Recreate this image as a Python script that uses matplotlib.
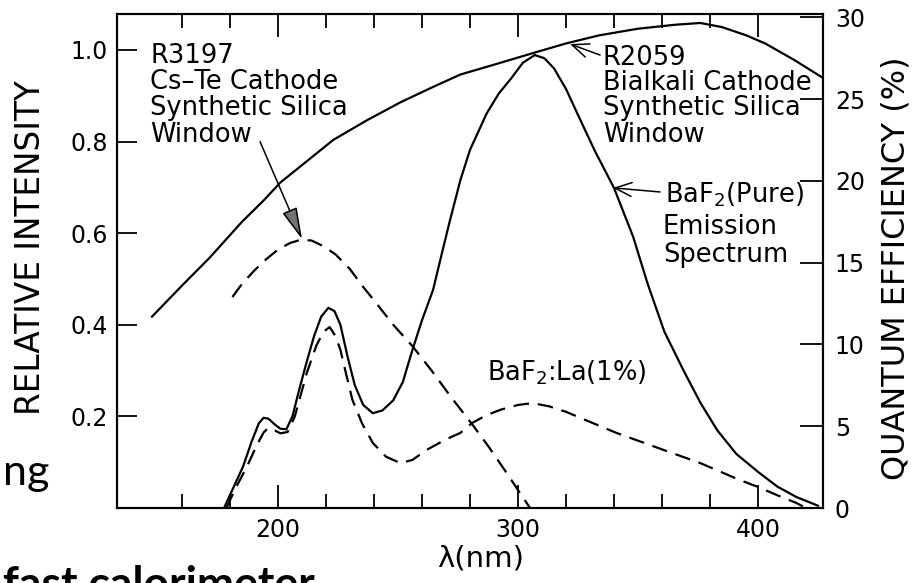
import matplotlib
matplotlib.use("Agg")
import matplotlib.pyplot as plt
from matplotlib.ticker import FixedLocator

# R2059 bialkali photocathode, quantum efficiency (%)
bialkali_nm = [147.5, 160, 171.5, 185, 194, 201, 212, 223, 237, 251, 264, 276,
               290, 306, 320, 334, 350, 366, 376, 385, 395, 403, 415, 427]
bialkali_qe = [11.7, 13.6, 15.3, 17.5, 18.8, 19.9, 21.2, 22.5, 23.7, 24.8, 25.7, 26.5,
               27.1, 27.8, 28.4, 28.9, 29.3, 29.55, 29.65, 29.4, 28.9, 28.4, 27.4, 26.3]

# R3197 Cs-Te photocathode, quantum efficiency (%)
cste_nm = [181, 185, 190, 195, 200, 205, 209.5, 214, 219, 224, 230, 235,
           240, 248, 256, 264, 272, 281, 288, 295, 300, 305]
cste_qe = [12.9, 13.7, 14.5, 15.2, 15.8, 16.2, 16.4, 16.35, 16.0, 15.5, 14.6, 13.6,
           12.7, 11.2, 9.9, 8.4, 6.8, 5.1, 3.7, 2.2, 1.1, 0.0]

# BaF2 (pure) emission spectrum, relative intensity
pure_nm = [177.5, 181, 185.4, 189, 192, 194, 196, 198.5, 201, 203.5, 206, 209,
           212, 215, 218, 221, 223.5, 226, 229, 232, 235.5, 239.5, 243.5, 248,
           252, 256, 260, 264.6, 268, 271.7, 276, 280, 287, 292, 297, 302,
           307, 311, 315, 320, 326, 332, 340, 348, 354, 361, 369, 376,
           383, 391, 400, 408, 416, 425]
pure_int = [0.0, 0.04, 0.09, 0.145, 0.185, 0.197, 0.195, 0.183, 0.173, 0.172, 0.2, 0.262,
            0.32, 0.375, 0.418, 0.437, 0.43, 0.4, 0.33, 0.268, 0.225, 0.207, 0.213, 0.235,
            0.275, 0.345, 0.41, 0.476, 0.55, 0.629, 0.716, 0.782, 0.862, 0.905, 0.937, 0.972,
            0.989, 0.982, 0.96, 0.915, 0.847, 0.78, 0.699, 0.592, 0.49, 0.385, 0.300, 0.23,
            0.170, 0.118, 0.079, 0.047, 0.024, 0.005]

# BaF2:La(1%) emission spectrum, relative intensity
la_nm = [178.5, 182, 187, 191, 194, 196, 198.5, 201, 204, 207, 212, 216,
         219, 221.5, 224, 226, 228.5, 231, 235, 239.5, 245, 251, 256, 262,
         270, 276, 281, 287, 293, 300, 306, 313, 320, 330, 341, 350,
         360, 368, 376, 384, 392, 400, 408, 416, 420]
la_int = [0.0, 0.04, 0.09, 0.135, 0.165, 0.175, 0.17, 0.163, 0.166, 0.2, 0.295, 0.355,
          0.385, 0.395, 0.375, 0.345, 0.29, 0.236, 0.185, 0.142, 0.112, 0.098, 0.105, 0.127,
          0.15, 0.164, 0.186, 0.203, 0.215, 0.225, 0.229, 0.222, 0.21, 0.188, 0.164, 0.147,
          0.128, 0.113, 0.098, 0.08, 0.062, 0.046, 0.028, 0.011, 0.0]

x_major = [200, 300, 400]
x_minor = [160, 180, 220, 240, 260, 280, 320, 340, 360, 380]
intensity_ticks = [0.2, 0.4, 0.6, 0.8, 1.0]
qe_ticks = [0, 5, 10, 15, 20, 25, 30]

LW = 1.6
DASH = (7, 4)

plt.rcParams["font.family"] = "DejaVu Sans"
plt.rcParams["axes.linewidth"] = 1.5

fig = plt.figure(figsize=(9.14, 5.83), dpi=100)
ax = fig.add_axes([117 / 914, 1 - 508 / 583, 706 / 914, 494 / 583])
ax2 = ax.twinx()

ax.plot(pure_nm, pure_int, color="black", lw=LW)
ax.plot(la_nm, la_int, color="black", lw=LW, dashes=DASH)
ax2.plot(bialkali_nm, bialkali_qe, color="black", lw=LW)
ax2.plot(cste_nm, cste_qe, color="black", lw=LW, dashes=DASH)

ax.set_xlim(132.9, 427.1)
ax.set_ylim(0, 1.0786)
ax2.set_ylim(0, 30.2)

ax.xaxis.set_major_locator(FixedLocator(x_major))
ax.xaxis.set_minor_locator(FixedLocator(x_minor))
ax.set_yticks(intensity_ticks)
ax.set_yticklabels(["%.1f" % v for v in intensity_ticks])
ax2.set_yticks(qe_ticks)

ax.tick_params(axis="x", which="major", direction="in", top=True, length=16.5,
               width=1.3, labelsize=17, pad=7)
ax.tick_params(axis="x", which="minor", direction="in", top=True, length=10, width=1.3)
ax.tick_params(axis="y", which="both", direction="in", left=True, right=False,
               length=14.5, width=1.3, labelsize=17, pad=6.5)
ax2.tick_params(axis="y", direction="in", length=16.5, width=1.3, labelsize=17, pad=8.5)

# axis titles
fig.text(31 / 914, 1 - 247.5 / 583, "RELATIVE INTENSITY", rotation=90,
         ha="center", va="center", fontsize=23.5)
fig.text(896 / 914, 1 - 268.5 / 583, "QUANTUM EFFICIENCY (%)", rotation=90,
         ha="center", va="center", fontsize=23)
fig.text(481 / 914, 1 - 558 / 583, "λ(nm)", ha="center", va="center", fontsize=21)

# curve annotations
txt = dict(fontsize=18.5, va="baseline", ha="left")
for label, y in zip(["R3197", "Cs–Te Cathode", "Synthetic Silica", "Window"],
                    [0.972, 0.915, 0.858, 0.799]):
    ax.text(146.7, y, label, **txt)
for label, y in zip(["R2059", "Bialkali Cathode", "Synthetic Silica", "Window"],
                    [0.967, 0.913, 0.858, 0.799]):
    ax.text(335.4, y, label, **txt)
ax.text(361.2, 0.668, "BaF$_2$(Pure)", **txt)
ax.text(360.4, 0.598, "Emission", **txt)
ax.text(360.4, 0.537, "Spectrum", **txt)
ax.text(287.1, 0.279, "BaF$_2$:La(1%)", **txt)

ax.annotate("", xy=(210, 0.587), xytext=(192.5, 0.800),
            arrowprops=dict(arrowstyle="-|>,head_length=0.9,head_width=0.22",
                            fc="0.45", ec="black", lw=1.1,
                            mutation_scale=22, shrinkA=0, shrinkB=0))
ax.annotate("", xy=(321.7, 1.013), xytext=(334.2, 0.989),
            arrowprops=dict(arrowstyle="->,head_length=0.6,head_width=0.25",
                            color="black", lw=1.1,
                            mutation_scale=20, shrinkA=0, shrinkB=0))
ax.annotate("", xy=(339.6, 0.699), xytext=(359.2, 0.690),
            arrowprops=dict(arrowstyle="->,head_length=0.6,head_width=0.25",
                            color="black", lw=1.1,
                            mutation_scale=20, shrinkA=0, shrinkB=0))

# slide text around the figure
fig.text(3 / 914, 1 - 485 / 583, "ng", family="Lato", fontsize=31, va="baseline")
fig.text(3 / 914, 1 - 598 / 583, "fast calorimeter", family="Lato",
         fontweight="bold", fontsize=32, va="baseline")

fig.savefig("out.png", dpi=100)
